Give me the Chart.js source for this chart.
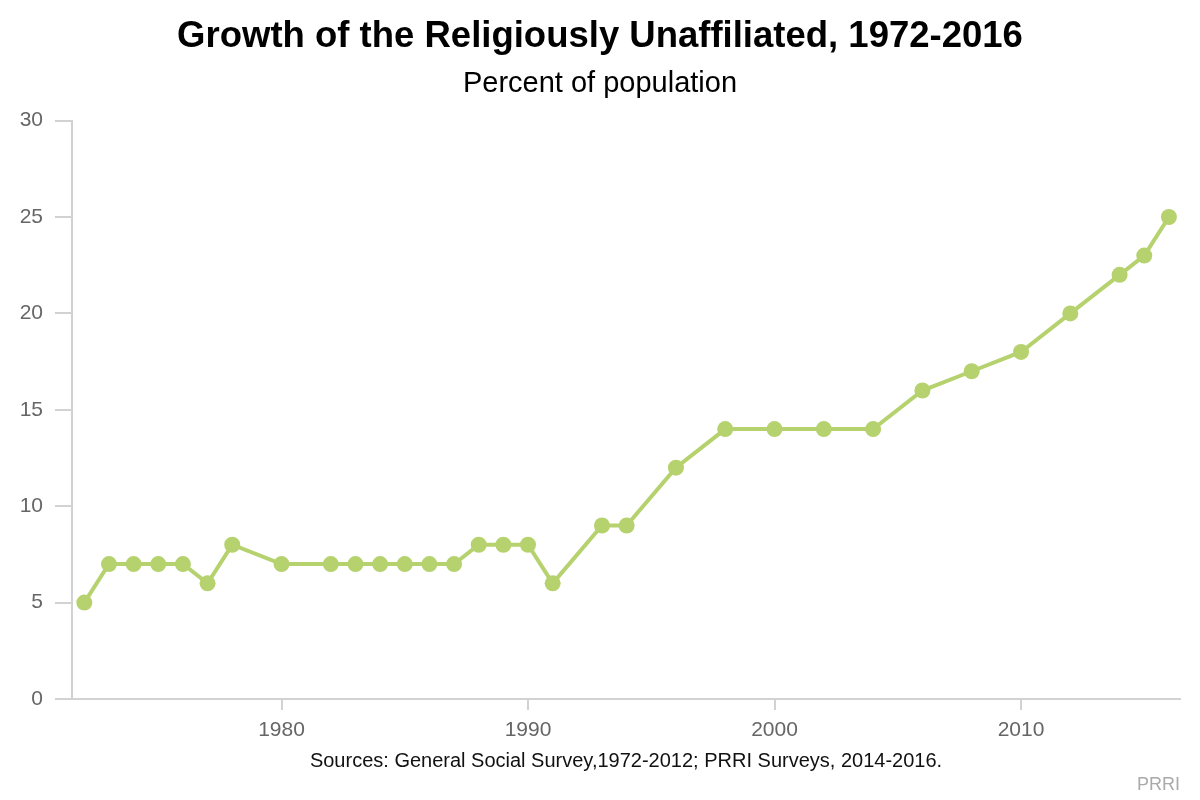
<!DOCTYPE html>
<html>
<head>
<meta charset="utf-8">
<script src="https://cdn.jsdelivr.net/npm/chart.js@4"></script>
<style>
  html, body { margin: 0; padding: 0; background: #fff; }
  #wrap { width: 1200px; height: 800px; position: relative; }
</style>
</head>
<body>
<div id="wrap"><canvas id="c" width="1200" height="800"></canvas></div>
<script>
const years = [1972,1973,1974,1975,1976,1977,1978,1980,1982,1983,1984,1985,1986,1987,1988,1989,1990,1991,1993,1994,1996,1998,2000,2002,2004,2006,2008,2010,2012,2014,2015,2016];
const unaffiliated = [5,7,7,7,7,6,8,7,7,7,7,7,7,7,8,8,8,6,9,9,12,14,14,14,14,16,17,18,20,22,23,25];
const xTickYears = [1980,1990,2000,2010];
const yTickValues = [0,5,10,15,20,25,30];

const titleText = 'Growth of the Religiously Unaffiliated, 1972-2016';
const subtitleText = 'Percent of population';
const sourceText = 'Sources: General Social Survey,1972-2012; PRRI Surveys, 2014-2016.';
const creditText = 'PRRI';

const FONT = '"Liberation Sans", Arial, sans-serif';
const GREEN = '#b6d26e';
const AXIS = '#d2d2d2';

const points = years.map((y, i) => ({ x: y, y: unaffiliated[i] }));

const creditPlugin = {
  id: 'credit',
  afterDraw(chart) {
    const ctx = chart.ctx;
    ctx.save();
    ctx.font = '18px ' + FONT;
    ctx.fillStyle = '#aaaaaa';
    ctx.textAlign = 'right';
    ctx.textBaseline = 'alphabetic';
    ctx.fillText(creditText, 1180, 790);
    ctx.restore();
  }
};

new Chart(document.getElementById('c'), {
  type: 'line',
  data: {
    datasets: [{
      data: points,
      borderColor: GREEN,
      backgroundColor: GREEN,
      borderWidth: 4,
      pointRadius: 8,
      pointHoverRadius: 8,
      pointBorderWidth: 0,
      pointBackgroundColor: GREEN,
      tension: 0,
      fill: false
    }]
  },
  options: {
    responsive: false,
    animation: false,
    devicePixelRatio: 1,
    layout: { padding: { left: 0, right: 0, top: 0, bottom: 0 } },
    plugins: {
      legend: { display: false },
      tooltip: { enabled: false },
      title: {
        display: true,
        text: titleText,
        color: '#000',
        font: { family: FONT, size: 36.5, weight: 'bold', lineHeight: 1.2 },
        padding: { top: 15, bottom: 0 }
      },
      subtitle: {
        display: true,
        text: subtitleText,
        color: '#000',
        font: { family: FONT, size: 29, weight: 'normal', lineHeight: 1.2 },
        padding: { top: 8, bottom: 19 }
      }
    },
    scales: {
      x: {
        type: 'linear',
        min: 1971.5,
        max: 2016.45,
        afterBuildTicks(scale) { scale.ticks = xTickYears.map(v => ({ value: v })); },
        afterFit(scale) { scale.height = 101; },
        ticks: {
          color: '#666',
          font: { family: FONT, size: 21 },
          padding: 8,
          callback: v => String(v)
        },
        grid: { drawOnChartArea: false, drawTicks: true, tickLength: 11, color: AXIS, lineWidth: 2 },
        border: { display: true, color: AXIS, width: 2 },
        title: {
          display: true,
          text: sourceText,
          color: '#111',
          font: { family: FONT, size: 20, lineHeight: 1.2 },
          padding: { top: 0, bottom: 27 }
        }
      },
      y: {
        type: 'linear',
        min: 0,
        max: 30,
        afterBuildTicks(scale) { scale.ticks = yTickValues.map(v => ({ value: v })); },
        afterFit(scale) { scale.width = 72; },
        ticks: {
          color: '#666',
          font: { family: FONT, size: 21 },
          padding: 12
        },
        grid: { drawOnChartArea: false, drawTicks: true, tickLength: 17, color: AXIS, lineWidth: 2 },
        border: { display: true, color: AXIS, width: 2 }
      },
      yRightSpacer: {
        type: 'linear',
        position: 'right',
        display: true,
        min: 0,
        max: 30,
        afterFit(scale) { scale.width = 20; },
        ticks: { display: false },
        grid: { display: false, drawTicks: false },
        border: { display: false }
      }
    }
  },
  plugins: [creditPlugin]
});
</script>
</body>
</html>
